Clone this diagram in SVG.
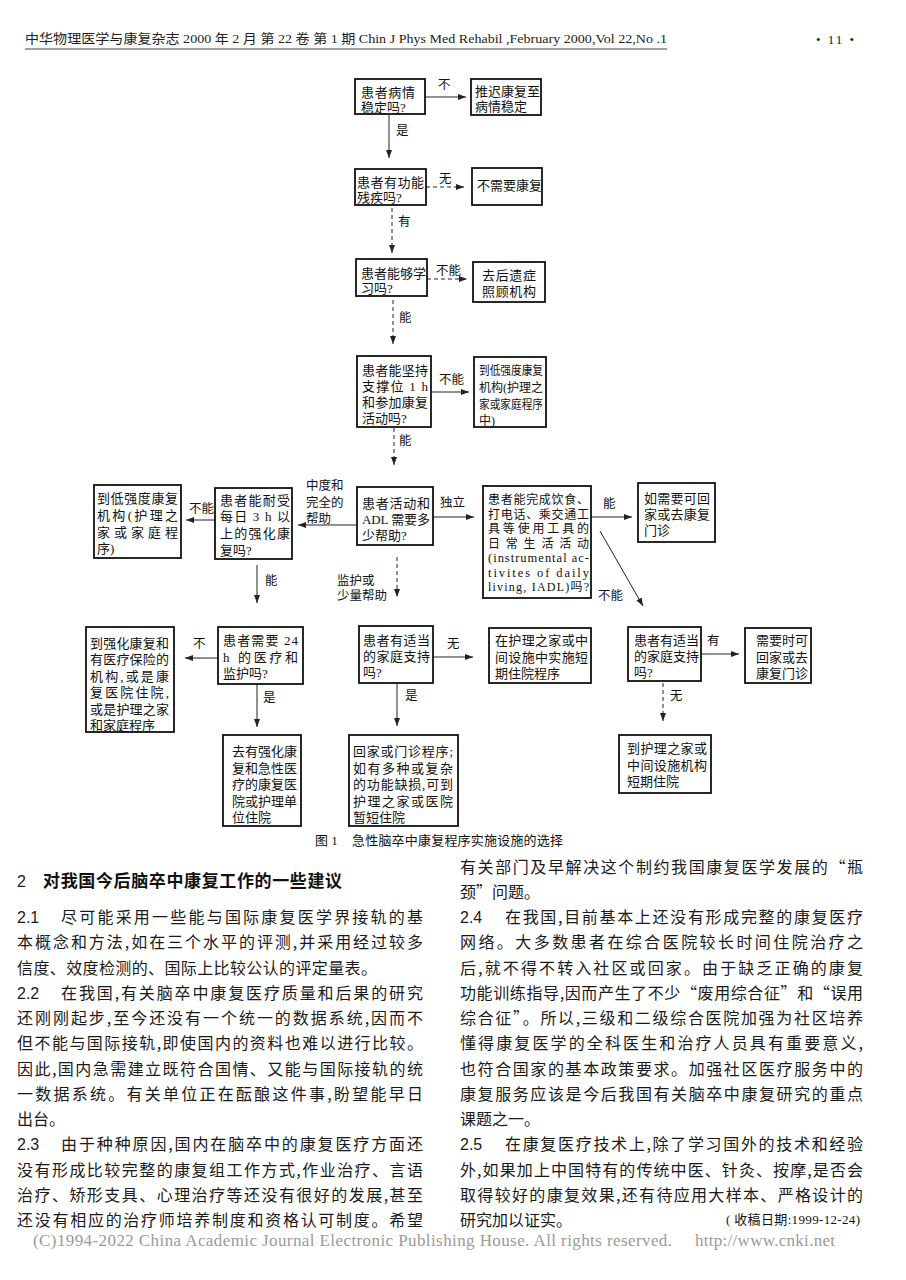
<svg xmlns="http://www.w3.org/2000/svg" width="906" height="1280" viewBox="0 0 906 1280">
<style>
.bg{fill:#fff}
.box{fill:#fff;stroke:#111;stroke-width:1.8}
.t{font-family:"Liberation Serif","Noto Sans CJK SC",serif;font-size:13px;fill:#111}
.l{font-family:"Liberation Serif","Noto Sans CJK SC",serif;font-size:12.5px;fill:#111}
.c{stroke:#222;stroke-width:1;fill:none;marker-end:url(#ah)}
.d{stroke:#222;stroke-width:1;fill:none;stroke-dasharray:4 3;marker-end:url(#ah)}
.b{font-family:"Noto Sans CJK SC","Liberation Sans",sans-serif;font-size:16px;fill:#1a1a1a}
.n{font-family:"Liberation Sans","Noto Sans CJK SC",sans-serif;font-size:16px;fill:#1a1a1a}
.h{font-family:"Noto Sans CJK SC","Liberation Sans",sans-serif;font-size:17px;font-weight:bold;fill:#111}
.hd{font-family:"Liberation Serif","Noto Sans CJK SC",serif;font-size:13px;fill:#222}
.ft{font-family:"Liberation Serif",serif;font-size:17px;fill:#9a9a9a}
.sq{font-size:12px}
</style>
<defs>
<marker id="ah" markerUnits="userSpaceOnUse" markerWidth="8" markerHeight="6" refX="8" refY="3" orient="auto"><path d="M0,0 L8,3 L0,6 z" fill="#222"/></marker>
</defs>
<rect class="bg" x="0" y="0" width="906" height="1280"/>

<g id="header">
<text class="hd" x="25" y="43" textLength="642" lengthAdjust="spacingAndGlyphs">中华物理医学与康复杂志 2000 年 2 月 第 22 卷 第 1 期  Chin J Phys Med Rehabil ,February 2000,Vol 22,No .1</text>
<line x1="25" y1="49" x2="667" y2="49" stroke="#444" stroke-width="1"/>
<text class="hd" x="816" y="44" font-size="16" textLength="38">• 11 •</text>
</g>

<g id="connectors">
<line class="c" x1="425" y1="97" x2="466" y2="97"/>
<text class="l" x="438" y="89">不</text>
<line class="c" x1="389" y1="115" x2="389" y2="158"/>
<text class="l" x="396" y="135">是</text>
<line class="d" x1="426" y1="187" x2="464" y2="187"/>
<text class="l" x="439" y="183">无</text>
<line class="d" x1="392" y1="208" x2="392" y2="253"/>
<text class="l" x="398" y="226">有</text>
<line class="d" x1="427" y1="279" x2="467" y2="279"/>
<text class="l" x="436" y="275">不能</text>
<line class="d" x1="393" y1="300" x2="393" y2="344"/>
<text class="l" x="399" y="322">能</text>
<line class="c" x1="431" y1="392" x2="469" y2="392"/>
<text class="l" x="439" y="384">不能</text>
<line class="d" x1="394" y1="428" x2="394" y2="465"/>
<text class="l" x="399" y="445">能</text>
<line class="c" x1="357" y1="525" x2="298" y2="525"/>
<text class="l" x="306" y="490">中度和</text>
<text class="l" x="306" y="507">完全的</text>
<text class="l" x="306" y="523">帮助</text>
<line class="c" x1="215" y1="520" x2="186" y2="520"/>
<text class="l" x="189" y="513">不能</text>
<line class="c" x1="433" y1="517" x2="474" y2="517"/>
<text class="l" x="440" y="507">独立</text>
<line class="c" x1="257" y1="565" x2="257" y2="603"/>
<text class="l" x="265" y="585">能</text>
<line class="d" x1="397" y1="557" x2="397" y2="597"/>
<text class="l" x="337" y="585">监护或</text>
<text class="l" x="337" y="600">少量帮助</text>
<line class="c" x1="591" y1="517" x2="632" y2="517"/>
<text class="l" x="603" y="508">能</text>
<line class="c" x1="600" y1="531" x2="643" y2="606"/>
<text class="l" x="598" y="600">不能</text>
<line class="c" x1="218" y1="658" x2="185" y2="658"/>
<text class="l" x="193" y="648">不</text>
<line class="c" x1="257" y1="684" x2="257" y2="727"/>
<text class="l" x="263" y="702">是</text>
<line class="c" x1="433" y1="657" x2="473" y2="657"/>
<text class="l" x="447" y="648">无</text>
<line class="c" x1="397" y1="683" x2="397" y2="726"/>
<text class="l" x="405" y="700">是</text>
<line class="c" x1="701" y1="654" x2="739" y2="654"/>
<text class="l" x="707" y="645">有</text>
<line class="d" x1="663" y1="683" x2="663" y2="721"/>
<text class="l" x="670" y="700">无</text>
</g>

<g id="n1"><rect class="box" x="355" y="79" width="70" height="35"/>
<text class="t" x="361" y="97" textLength="54">患者病情</text><text class="t" x="361" y="112">稳定吗?</text></g>
<g id="n2"><rect class="box" x="471" y="79" width="70" height="36"/>
<text class="t" x="475" y="96" textLength="65">推迟康复至</text><text class="t" x="475" y="111">病情稳定</text></g>
<g id="n3"><rect class="box" x="355" y="169" width="71" height="36"/>
<text class="t" x="357" y="187" textLength="67">患者有功能</text><text class="t" x="357" y="202">残疾吗?</text></g>
<g id="n4"><rect class="box" x="472" y="168" width="70" height="37"/>
<text class="t" x="477" y="190" textLength="65">不需要康复</text></g>
<g id="n5"><rect class="box" x="356" y="259" width="71" height="37"/>
<text class="t" x="361" y="278" textLength="65">患者能够学</text><text class="t" x="361" y="293">习吗?</text></g>
<g id="n6"><rect class="box" x="473" y="262" width="72" height="40"/>
<text class="t" x="482" y="280" textLength="54">去后遗症</text><text class="t" x="482" y="296" textLength="54">照顾机构</text></g>
<g id="n7"><rect class="box" x="357" y="356" width="74" height="71"/>
<text class="t" x="362" y="375" textLength="66">患者能坚持</text><text class="t" x="362" y="391" textLength="66">支撑位 1 h</text><text class="t" x="362" y="407" textLength="66">和参加康复</text><text class="t" x="362" y="423">活动吗?</text></g>
<g id="n8"><rect class="box" x="474" y="357" width="72" height="70"/>
<text class="t sq" x="479" y="375" textLength="64" lengthAdjust="spacingAndGlyphs">到低强度康复</text><text class="t sq" x="479" y="392" textLength="64" lengthAdjust="spacingAndGlyphs">机构(护理之</text><text class="t sq" x="479" y="409" textLength="64" lengthAdjust="spacingAndGlyphs">家或家庭程序</text><text class="t sq" x="479" y="425">中)</text></g>
<g id="n9"><rect class="box" x="357" y="487" width="76" height="58"/>
<text class="t" x="362" y="508" textLength="68">患者活动和</text><text class="t" x="362" y="524" textLength="68">ADL 需要多</text><text class="t" x="362" y="540">少帮助?</text></g>
<g id="n10"><rect class="box" x="215" y="488" width="77" height="71"/>
<text class="t" x="220" y="505" textLength="70">患者能耐受</text><text class="t" x="220" y="521" textLength="70">每日 3 h 以</text><text class="t" x="220" y="538" textLength="70">上的强化康</text><text class="t" x="220" y="555">复吗?</text></g>
<g id="n11"><rect class="box" x="94" y="485" width="87" height="73"/>
<text class="t" x="97" y="503" textLength="81">到低强度康复</text><text class="t" x="97" y="520" textLength="81">机构(护理之</text><text class="t" x="97" y="537" textLength="81">家或家庭程</text><text class="t" x="97" y="553">序)</text></g>
<g id="n12"><rect class="box" x="483" y="486" width="108" height="112"/>
<text class="t" style="font-size:12px" x="488" y="504" textLength="101">患者能完成饮食、</text><text class="t" style="font-size:12px" x="488" y="518.5" textLength="101">打电话、乘交通工</text><text class="t" style="font-size:12px" x="488" y="533" textLength="101">具等使用工具的</text><text class="t" style="font-size:12px" x="488" y="547.5" textLength="101">日常生活活动</text><text class="t" style="font-size:12.5px" x="488" y="562" textLength="101">(instrumental ac-</text><text class="t" style="font-size:12.5px" x="488" y="576.5" textLength="101">tivites of daily</text><text class="t" style="font-size:12px" x="488" y="591" textLength="101">living, IADL)吗?</text></g>
<g id="n13"><rect class="box" x="638" y="483" width="77" height="59"/>
<text class="t" x="644" y="503" textLength="66">如需要可回</text><text class="t" x="644" y="519" textLength="66">家或去康复</text><text class="t" x="644" y="535">门诊</text></g>
<g id="n14"><rect class="box" x="218" y="627" width="85" height="57"/>
<text class="t" x="223" y="645" textLength="75">患者需要 24</text><text class="t" x="223" y="662" textLength="75">h 的医疗和</text><text class="t" x="223" y="678">监护吗?</text></g>
<g id="n15"><rect class="box" x="86" y="627" width="88" height="105"/>
<text class="t" x="90" y="648" textLength="79">到强化康复和</text><text class="t" x="90" y="664" textLength="79">有医疗保险的</text><text class="t" x="90" y="681" textLength="79">机构,或是康</text><text class="t" x="90" y="697" textLength="79">复医院住院,</text><text class="t" x="90" y="714" textLength="79">或是护理之家</text><text class="t" x="90" y="730">和家庭程序</text></g>
<g id="n16"><rect class="box" x="223" y="735" width="78" height="91"/>
<text class="t" x="232" y="756" textLength="65">去有强化康</text><text class="t" x="232" y="773" textLength="65">复和急性医</text><text class="t" x="232" y="789" textLength="65">疗的康复医</text><text class="t" x="232" y="806" textLength="65">院或护理单</text><text class="t" x="232" y="822">位住院</text></g>
<g id="n17"><rect class="box" x="359" y="626" width="74" height="57"/>
<text class="t" x="363" y="645" textLength="67">患者有适当</text><text class="t" x="363" y="661" textLength="67">的家庭支持</text><text class="t" x="363" y="677">吗?</text></g>
<g id="n18"><rect class="box" x="349" y="735" width="109" height="91"/>
<text class="t" x="353" y="756" textLength="100">回家或门诊程序;</text><text class="t" x="353" y="773" textLength="100">如有多种或复杂</text><text class="t" x="353" y="789" textLength="100">的功能缺损,可到</text><text class="t" x="353" y="806" textLength="100">护理之家或医院</text><text class="t" x="353" y="822">暂短住院</text></g>
<g id="n19"><rect class="box" x="489" y="628" width="102" height="55"/>
<text class="t" x="495" y="645" textLength="93">在护理之家或中</text><text class="t" x="495" y="662" textLength="93">间设施中实施短</text><text class="t" x="495" y="678">期住院程序</text></g>
<g id="n20"><rect class="box" x="628" y="627" width="73" height="54"/>
<text class="t" x="634" y="645" textLength="65">患者有适当</text><text class="t" x="634" y="661" textLength="65">的家庭支持</text><text class="t" x="634" y="677">吗?</text></g>
<g id="n21"><rect class="box" x="745" y="628" width="66" height="55"/>
<text class="t" x="756" y="645" textLength="52">需要时可</text><text class="t" x="756" y="662" textLength="52">回家或去</text><text class="t" x="756" y="678" textLength="52">康复门诊</text></g>
<g id="n22"><rect class="box" x="619" y="735" width="92" height="58"/>
<text class="t" x="627" y="753" textLength="80">到护理之家或</text><text class="t" x="627" y="770" textLength="80">中间设施机构</text><text class="t" x="627" y="786">短期住院</text></g>

<g id="caption">
<text class="t" x="315" y="845" font-size="12">图 1</text>
<text class="t" x="352" y="845" font-size="12" textLength="211">急性脑卒中康复程序实施设施的选择</text>
</g>

<g id="body-left">
<text class="n" x="17" y="887" font-size="17">2</text>
<text class="h" x="43" y="887" textLength="299">对我国今后脑卒中康复工作的一些建议</text>
<text class="n" x="17" y="923">2.1</text>
<text class="b" x="61" y="923" textLength="362">尽可能采用一些能与国际康复医学界接轨的基</text>
<text class="b" x="17" y="948.25" textLength="406">本概念和方法,如在三个水平的评测,并采用经过较多</text>
<text class="b" x="17" y="973.5" textLength="360">信度、效度检测的、国际上比较公认的评定量表。</text>
<text class="n" x="17" y="998.75">2.2</text>
<text class="b" x="61" y="998.75" textLength="362">在我国,有关脑卒中康复医疗质量和后果的研究</text>
<text class="b" x="17" y="1024" textLength="406">还刚刚起步,至今还没有一个统一的数据系统,因而不</text>
<text class="b" x="17" y="1049.25" textLength="406">但不能与国际接轨,即使国内的资料也难以进行比较。</text>
<text class="b" x="17" y="1074.5" textLength="406">因此,国内急需建立既符合国情、又能与国际接轨的统</text>
<text class="b" x="17" y="1099.75" textLength="406">一数据系统。有关单位正在酝酿这件事,盼望能早日</text>
<text class="b" x="17" y="1125">出台。</text>
<text class="n" x="17" y="1150.25">2.3</text>
<text class="b" x="61" y="1150.25" textLength="362">由于种种原因,国内在脑卒中的康复医疗方面还</text>
<text class="b" x="17" y="1175.5" textLength="406">没有形成比较完整的康复组工作方式,作业治疗、言语</text>
<text class="b" x="17" y="1200.75" textLength="406">治疗、矫形支具、心理治疗等还没有很好的发展,甚至</text>
<text class="b" x="17" y="1226" textLength="406">还没有相应的治疗师培养制度和资格认可制度。希望</text>
</g>

<g id="body-right">
<text class="b" x="460" y="872.5" textLength="403">有关部门及早解决这个制约我国康复医学发展的“瓶</text>
<text class="b" x="460" y="897.75">颈”问题。</text>
<text class="n" x="460" y="923">2.4</text>
<text class="b" x="505" y="923" textLength="358">在我国,目前基本上还没有形成完整的康复医疗</text>
<text class="b" x="460" y="948.25" textLength="403">网络。大多数患者在综合医院较长时间住院治疗之</text>
<text class="b" x="460" y="973.5" textLength="403">后,就不得不转入社区或回家。由于缺乏正确的康复</text>
<text class="b" x="460" y="998.75" textLength="403">功能训练指导,因而产生了不少“废用综合征”和“误用</text>
<text class="b" x="460" y="1024" textLength="403">综合征”。所以,三级和二级综合医院加强为社区培养</text>
<text class="b" x="460" y="1049.25" textLength="403">懂得康复医学的全科医生和治疗人员具有重要意义,</text>
<text class="b" x="460" y="1074.5" textLength="403">也符合国家的基本政策要求。加强社区医疗服务中的</text>
<text class="b" x="460" y="1099.75" textLength="403">康复服务应该是今后我国有关脑卒中康复研究的重点</text>
<text class="b" x="460" y="1125">课题之一。</text>
<text class="n" x="460" y="1150.25">2.5</text>
<text class="b" x="505" y="1150.25" textLength="358">在康复医疗技术上,除了学习国外的技术和经验</text>
<text class="b" x="460" y="1175.5" textLength="403">外,如果加上中国特有的传统中医、针灸、按摩,是否会</text>
<text class="b" x="460" y="1200.75" textLength="403">取得较好的康复效果,还有待应用大样本、严格设计的</text>
<text class="b" x="460" y="1226" textLength="112">研究加以证实。</text>
<text class="t" x="726" y="1224" font-size="12" textLength="134">( 收稿日期:1999-12-24)</text>
</g>

<g id="footer">
<text class="ft" x="33" y="1246" textLength="639">(C)1994-2022 China Academic Journal Electronic Publishing House. All rights reserved.</text>
<text class="ft" x="695" y="1246" textLength="140">http://www.cnki.net</text>
</g>
</svg>
